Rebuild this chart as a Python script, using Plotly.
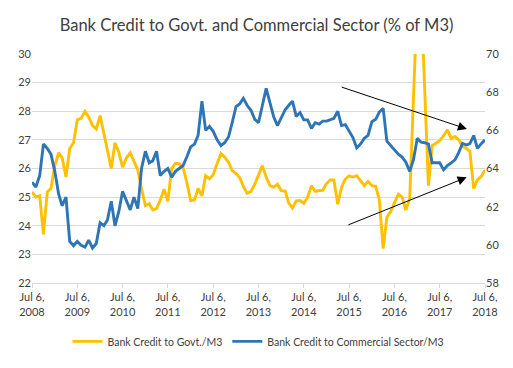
import pandas as pd
import plotly.graph_objects as go

# Monthly readings, Jul 6 2008 .. Jul 6 2018
start_date = "2008-07-01"
n_months = 121

govt_m3 = [
    25.18, 25.0, 25.05, 23.7, 25.18, 25.3, 26.1, 26.55, 26.38, 25.7, 26.7, 26.9,
    27.7, 27.75, 28.0, 27.8, 27.5, 27.38, 27.85, 27.2, 26.65, 26.0, 26.9, 26.57,
    26.05, 26.37, 26.55, 26.25, 25.95, 25.3, 24.7, 24.77, 24.55, 24.6, 24.9, 25.28,
    24.85, 26.0, 26.18, 26.17, 26.03, 25.52, 24.88, 24.9, 25.3, 25.05, 25.75, 25.64,
    25.78, 26.17, 26.52, 26.4, 26.22, 25.93, 25.82, 25.67, 25.37, 25.13, 25.2, 25.45,
    25.8, 26.1, 25.7, 25.4, 25.35, 25.45, 25.22, 25.22, 24.8, 24.62, 24.87, 24.88,
    24.78, 25.0, 25.4, 25.2, 25.23, 25.24, 25.48, 25.6, 25.6, 24.75, 25.35, 25.63,
    25.74, 25.7, 25.75, 25.57, 25.4, 25.55, 25.4, 25.38, 24.9, 23.2, 24.3, 24.5,
    24.78, 25.1, 25.0, 24.55, 24.95, 28.5, 32.0, 32.0, 29.0, 25.4, 26.8, 26.9,
    26.97, 27.15, 27.35, 27.05, 27.12, 27.0, 26.77, 26.7, 26.6, 25.3, 25.6, 25.73, 25.95,
]

commercial_m3 = [
    63.28, 63.03, 63.63, 65.28, 65.05, 64.75, 63.85, 62.65, 62.05, 62.5, 60.18, 59.95,
    60.18, 59.98, 59.88, 60.25, 59.83, 60.07, 61.15, 61.0, 61.3, 62.28, 61.0, 61.75,
    62.8, 62.35, 61.83, 62.5, 61.9, 64.0, 64.9, 64.3, 64.4, 64.9, 63.63, 63.85,
    64.0, 63.55, 63.85, 64.0, 64.15, 64.6, 65.13, 65.28, 65.73, 67.53, 66.0, 66.2,
    65.95, 65.5, 65.2, 65.35, 65.65, 66.4, 67.25, 67.4, 67.68, 67.3, 67.05, 66.58,
    66.4, 67.3, 68.2, 67.45, 66.7, 66.25, 66.7, 67.08, 67.3, 67.53, 66.73, 66.93,
    66.55, 66.55, 66.1, 66.4, 66.33, 66.48, 66.48, 66.58, 66.63, 67.0, 66.25, 66.3,
    65.95, 65.62, 65.08, 65.28, 65.58, 65.73, 66.45, 66.58, 66.96, 67.15, 65.43, 65.2,
    65.0, 64.75, 64.6, 64.33, 63.85, 64.45, 65.58, 65.38, 65.35, 65.28, 64.3, 64.3,
    64.3, 63.93, 64.15, 64.3, 64.45, 64.83, 65.32, 65.23, 65.3, 65.73, 65.05, 65.3, 65.5,
]

tick_dates = [f"{y}-07-06" for y in range(2008, 2019)]
tick_labels = [f"Jul 6,<br>{y}" for y in range(2008, 2019)]

dates = pd.date_range(start_date, periods=n_months, freq="MS") + pd.Timedelta(days=5)

GOLD = "#FFC000"
BLUE = "#2E75B6"
GRID = "#D9D9D9"
TXT = "#404040"
FONT = "Lato"

fig = go.Figure()
fig.add_trace(go.Scatter(
    x=dates, y=govt_m3, mode="lines", name="Bank Credit to Govt./M3",
    line=dict(color=GOLD, width=2.9), yaxis="y",
))
fig.add_trace(go.Scatter(
    x=dates, y=commercial_m3, mode="lines", name="Bank Credit to Commercial Sector/M3",
    line=dict(color=BLUE, width=2.9), yaxis="y2",
))

arrow = dict(showarrow=True, text="", arrowhead=2, arrowsize=1.8, arrowwidth=1,
             arrowcolor="#000000", xref="x", yref="y", axref="x", ayref="y")
fig.add_annotation(x="2018-02-10", y=27.38, ax="2015-04-26", ay=28.86, **arrow)
fig.add_annotation(x="2018-02-08", y=25.69, ax="2015-06-19", ay=24.01, **arrow)

fig.update_layout(
    width=513, height=368,
    margin=dict(l=32, r=28, t=54, b=77),
    paper_bgcolor="white", plot_bgcolor="white",
    font=dict(family=FONT, size=11, color=TXT),
    title=dict(text="Bank Credit to Govt. and Commercial Sector (% of M3)",
               x=0.5, xanchor="center", y=0.932, yanchor="middle",
               font=dict(family=FONT, size=16.5, color="#404040")),
    showlegend=True,
    legend=dict(orientation="h", x=0.5, xanchor="center", y=-0.255, yanchor="middle",
                font=dict(family=FONT, size=10.5, color=TXT), itemwidth=30,
                traceorder="normal"),
    xaxis=dict(type="date", range=["2008-07-06", "2018-07-06"],
               tickvals=tick_dates, ticktext=tick_labels,
               showgrid=False, showline=True, linecolor=GRID, linewidth=1,
               ticks="outside", ticklen=4, tickcolor=GRID, zeroline=False,
               tickfont=dict(size=11, color=TXT)),
    yaxis=dict(range=[22, 30], dtick=1, showgrid=True, gridcolor=GRID, gridwidth=1,
               zeroline=False, showline=False, ticks="", tickfont=dict(size=11, color=TXT)),
    yaxis2=dict(range=[58, 70], dtick=2, overlaying="y", side="right", showgrid=False,
                zeroline=False, showline=False, ticks="", tickfont=dict(size=11, color=TXT)),
)

fig.write_html("out.html")
